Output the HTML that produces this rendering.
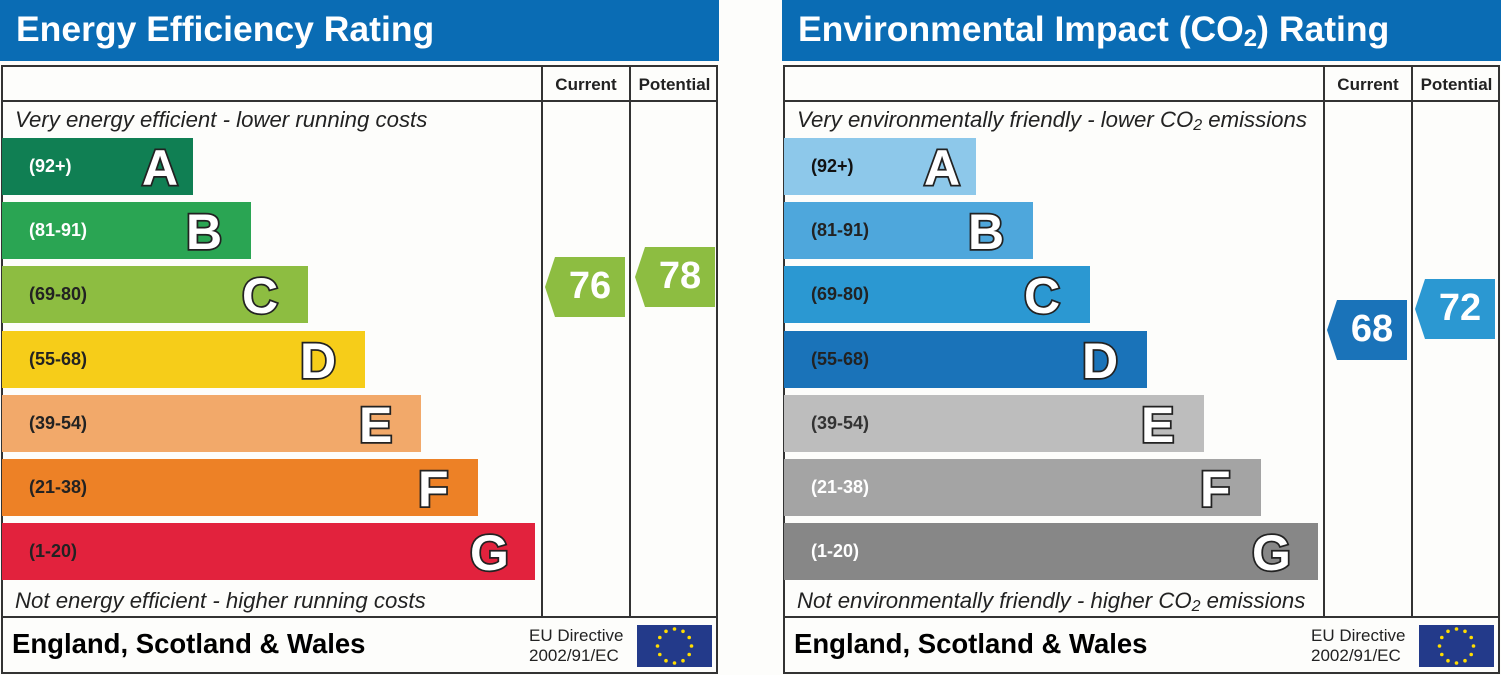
<!DOCTYPE html>
<html><head><meta charset="utf-8">
<style>
*{margin:0;padding:0;box-sizing:border-box}
body{width:1501px;height:675px;background:#fdfdfb;position:relative;overflow:hidden;font-family:"Liberation Sans",Arial,sans-serif}
.p{position:absolute;top:0;width:719px;height:675px}
.hd{position:absolute;left:0;top:0;width:719px;height:61px;background:#0a6cb4;color:#fff;font-weight:bold;font-size:35.5px;padding:9px 0 0 16px;white-space:nowrap}
.box{position:absolute;left:1px;top:65px;width:717px;height:609px;border:2px solid #333}
.vl{position:absolute;top:65px;height:552px;width:2px;background:#333}
.hl{position:absolute;left:1px;width:717px;height:2px;background:#333}
.ch{position:absolute;top:75px;font-weight:bold;font-size:17px;color:#222;text-align:center}
.it{position:absolute;left:15px;font-style:italic;font-size:22.2px;color:#222;white-space:nowrap}
.bar{position:absolute;left:2px;height:57px}
.lab{position:absolute;left:27px;top:18px;font-weight:bold;font-size:18px}
.let{position:absolute;top:1px;font-weight:bold;font-size:50px;color:#fff;-webkit-text-stroke:3.5px #222;paint-order:stroke fill}
.ft{position:absolute;left:12px;top:628px;font-weight:bold;font-size:27.5px;color:#000;white-space:nowrap}
.eu{position:absolute;left:529px;top:626px;font-size:17px;color:#222;line-height:20px}
.flag{position:absolute;left:637px;top:625px;width:75px;height:42px;background:#233a8a}
.arr{position:absolute;width:80px;height:60px;color:#fff;font-weight:bold;font-size:38px}
.arr svg{position:absolute;left:0;top:0}
.arr span{position:absolute;left:10px;right:0;top:8px;text-align:center}
</style></head><body>

<div class="p" style="left:0">
<div class="hd">Energy Efficiency Rating</div>
<div class="box"></div>
<div class="hl" style="top:100px"></div>
<div class="hl" style="top:616px"></div>
<div class="vl" style="left:541px"></div>
<div class="vl" style="left:629px"></div>
<div class="ch" style="left:543px;width:86px">Current</div>
<div class="ch" style="left:631px;width:87px">Potential</div>
<div class="it" style="top:107px">Very energy efficient - lower running costs</div>
<div class="bar" style="top:138px;width:191px;background:#107f53"><span class="lab" style="color:#fff">(92+)</span><span class="let" style="left:140px">A</span></div>
<div class="bar" style="top:202px;width:249px;background:#2aa553"><span class="lab" style="color:#fff">(81-91)</span><span class="let" style="left:184px">B</span></div>
<div class="bar" style="top:266px;width:306px;background:#8dbd41"><span class="lab" style="color:#222">(69-80)</span><span class="let" style="left:240px">C</span></div>
<div class="bar" style="top:331px;width:363px;background:#f6cd19"><span class="lab" style="color:#222">(55-68)</span><span class="let" style="left:298px">D</span></div>
<div class="bar" style="top:395px;width:419px;background:#f2a96a"><span class="lab" style="color:#222">(39-54)</span><span class="let" style="left:357px">E</span></div>
<div class="bar" style="top:459px;width:476px;background:#ed8126"><span class="lab" style="color:#222">(21-38)</span><span class="let" style="left:416px">F</span></div>
<div class="bar" style="top:523px;width:533px;background:#e2223d"><span class="lab" style="color:#222">(1-20)</span><span class="let" style="left:468px">G</span></div>
<div class="it" style="top:588px">Not energy efficient - higher running costs</div>
<div class="ft">England, Scotland &amp; Wales</div>
<div class="eu">EU Directive<br>2002/91/EC</div>
<div class="flag"><svg width="75" height="42"><g fill="#fd0"><circle cx="37.5" cy="4" r="1.8"/><circle cx="46" cy="6.3" r="1.8"/><circle cx="52.2" cy="12.5" r="1.8"/><circle cx="54.5" cy="21" r="1.8"/><circle cx="52.2" cy="29.5" r="1.8"/><circle cx="46" cy="35.7" r="1.8"/><circle cx="37.5" cy="38" r="1.8"/><circle cx="29" cy="35.7" r="1.8"/><circle cx="22.8" cy="29.5" r="1.8"/><circle cx="20.5" cy="21" r="1.8"/><circle cx="22.8" cy="12.5" r="1.8"/><circle cx="29" cy="6.3" r="1.8"/></g></svg></div>
<div class="arr" style="left:545px;top:257px"><svg width="80" height="60"><polygon points="0,30 10,0 80,0 80,60 10,60" fill="#8dbd41"/></svg><span>76</span></div>
<div class="arr" style="left:635px;top:247px"><svg width="80" height="60"><polygon points="0,30 10,0 80,0 80,60 10,60" fill="#8dbd41"/></svg><span>78</span></div>
</div>

<div class="p" style="left:782px">
<div class="hd">Environmental Impact (CO<sub style="font-size:24px;vertical-align:-5px">2</sub>) Rating</div>
<div class="box"></div>
<div class="hl" style="top:100px"></div>
<div class="hl" style="top:616px"></div>
<div class="vl" style="left:541px"></div>
<div class="vl" style="left:629px"></div>
<div class="ch" style="left:543px;width:86px">Current</div>
<div class="ch" style="left:631px;width:87px">Potential</div>
<div class="it" style="top:107px">Very environmentally friendly - lower CO<sub style="font-size:16px;vertical-align:-3px">2</sub> emissions</div>
<div class="bar" style="top:138px;width:192px;background:#8dc8ea"><span class="lab" style="color:#111">(92+)</span><span class="let" style="left:140px">A</span></div>
<div class="bar" style="top:202px;width:249px;background:#4ea7dc"><span class="lab" style="color:#222">(81-91)</span><span class="let" style="left:184px">B</span></div>
<div class="bar" style="top:266px;width:306px;background:#2b98d2"><span class="lab" style="color:#222">(69-80)</span><span class="let" style="left:240px">C</span></div>
<div class="bar" style="top:331px;width:363px;background:#1a73b9"><span class="lab" style="color:#222">(55-68)</span><span class="let" style="left:298px">D</span></div>
<div class="bar" style="top:395px;width:420px;background:#bdbdbd"><span class="lab" style="color:#333">(39-54)</span><span class="let" style="left:357px">E</span></div>
<div class="bar" style="top:459px;width:477px;background:#a4a4a4"><span class="lab" style="color:#fff">(21-38)</span><span class="let" style="left:416px">F</span></div>
<div class="bar" style="top:523px;width:534px;background:#878787"><span class="lab" style="color:#fff">(1-20)</span><span class="let" style="left:468px">G</span></div>
<div class="it" style="top:588px">Not environmentally friendly - higher CO<sub style="font-size:16px;vertical-align:-3px">2</sub> emissions</div>
<div class="ft">England, Scotland &amp; Wales</div>
<div class="eu">EU Directive<br>2002/91/EC</div>
<div class="flag"><svg width="75" height="42"><g fill="#fd0"><circle cx="37.5" cy="4" r="1.8"/><circle cx="46" cy="6.3" r="1.8"/><circle cx="52.2" cy="12.5" r="1.8"/><circle cx="54.5" cy="21" r="1.8"/><circle cx="52.2" cy="29.5" r="1.8"/><circle cx="46" cy="35.7" r="1.8"/><circle cx="37.5" cy="38" r="1.8"/><circle cx="29" cy="35.7" r="1.8"/><circle cx="22.8" cy="29.5" r="1.8"/><circle cx="20.5" cy="21" r="1.8"/><circle cx="22.8" cy="12.5" r="1.8"/><circle cx="29" cy="6.3" r="1.8"/></g></svg></div>
<div class="arr" style="left:545px;top:300px"><svg width="80" height="60"><polygon points="0,30 10,0 80,0 80,60 10,60" fill="#1a73b9"/></svg><span>68</span></div>
<div class="arr" style="left:633px;top:279px"><svg width="80" height="60"><polygon points="0,30 10,0 80,0 80,60 10,60" fill="#2b98d2"/></svg><span>72</span></div>
</div>
</body></html>
